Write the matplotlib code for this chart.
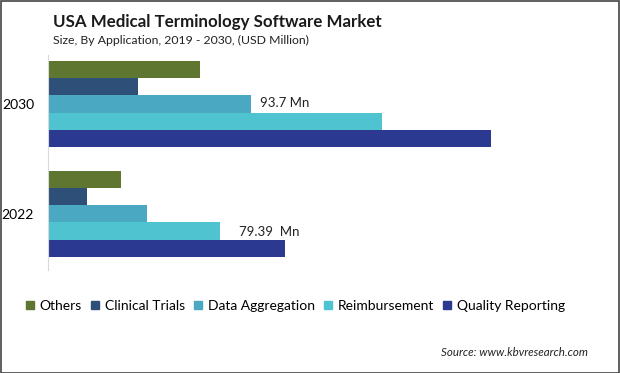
import matplotlib.pyplot as plt
from matplotlib.patches import Rectangle
from matplotlib.lines import Line2D

# data
years = ["2022", "2030"]
series = ["Others", "Clinical Trials", "Data Aggregation", "Reimbursement", "Quality Reporting"]
others = [33.6, 70.2]
clinical_trials = [18.0, 41.5]
data_aggregation = [45.7, 93.7]
reimbursement = [79.39, 154.2]
quality_reporting = [109.4, 204.5]
values = [others, clinical_trials, data_aggregation, reimbursement, quality_reporting]
colors = ["#5f7630", "#2e4f78", "#4aa8c2", "#4fc3d0", "#2b3990"]

plt.rcParams["font.family"] = ["Lato", "DejaVu Sans"]

fig = plt.figure(figsize=(6.2, 3.73), dpi=100)
W, H = 620, 373
ax = fig.add_axes([48 / W, 1 - 270 / H, 552 / W, 215 / H])

h = 0.156
for i, (name, vals, c) in enumerate(zip(series, values, colors)):
    offs = (2 - i) * h
    ax.barh([k + offs for k in range(len(years))], vals, height=h, color=c, label=name)

# value labels
ax.text(data_aggregation[1] + 4, 1 + 0 * h + 0.01, "93.7 Mn", va="center", ha="left", fontsize=9.5, color="#222222")
ax.text(reimbursement[0] + 9, 0 - 1 * h - 0.01, "79.39  Mn", va="center", ha="left", fontsize=9.5, color="#222222")

ax.set_xlim(0, 254.8)
ax.set_ylim(-0.51, 1.445)
ax.set_yticks(range(len(years)))
ax.set_yticklabels(years, fontsize=10)
ax.tick_params(axis="y", length=0, pad=10)
ax.set_xticks([])
for s in ["top", "right", "bottom"]:
    ax.spines[s].set_visible(False)
ax.spines["left"].set_color("#d9d9d9")

fig.text(53 / W, 1 - 22 / H, "USA Medical Terminology Software Market", fontsize=12.2, fontweight="bold",
         va="center", ha="left", color="#1a1a1a")
fig.text(53 / W, 1 - 40 / H, "Size, By Application, 2019 - 2030, (USD Million)", fontsize=8.8,
         va="center", ha="left", color="#222222")

handles = [Line2D([], [], marker="s", linestyle="", markersize=5.5, color=c) for c in colors]
fig.legend(handles, series, loc="center left", bbox_to_anchor=(25 / W, 1 - 306 / H), ncol=5,
           frameon=False, fontsize=10, handlelength=0.7, handletextpad=0.35, columnspacing=0.6,
           borderaxespad=0, borderpad=0)

fig.text(588 / W, 1 - 352 / H, "Source: www.kbvresearch.com", fontsize=8.3, style="italic",
         ha="right", va="center", color="#222222")

fig.patches.append(Rectangle((0.5 / W, 0.5 / H), 1 - 1.5 / W, 1 - 1.5 / H, transform=fig.transFigure,
                             fill=False, edgecolor="#444444", linewidth=1.2))

fig.savefig("out.png", dpi=100)
